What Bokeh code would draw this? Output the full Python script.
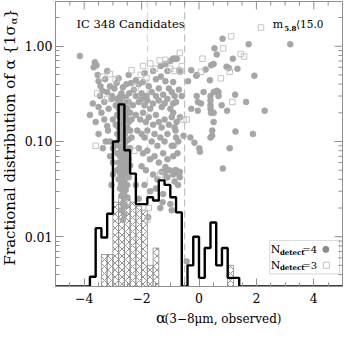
from math import pi, log10
from bokeh.plotting import figure
from bokeh.layouts import row, column
from bokeh.core.properties import value
from bokeh.models import (Range1d, FixedTicker, CustomJSTickFormatter,
                          Span, Label, BoxAnnotation)
from bokeh.embed import file_html
from bokeh.resources import INLINE

# ---------------- data ----------------
hist_edges = [-5.0, -4.8, -4.6, -4.4, -4.2, -4.0, -3.8, -3.6, -3.4, -3.2, -3.0,
              -2.8, -2.6, -2.4, -2.2, -2.0, -1.8, -1.6, -1.4, -1.2, -1.0,
              -0.8, -0.6, -0.4, -0.2, 0.0, 0.2, 0.4, 0.6, 0.8, 1.0,
              1.2, 1.4, 1.6, 1.8, 2.0, 2.2, 2.4, 2.6, 2.8, 3.0,
              3.2, 3.4, 3.6, 3.8, 4.0, 4.2, 4.4, 4.6, 4.8, 5.0]
hist_all = [0, 0, 0, 0, 0, 0, 0.0038, 0.0123, 0.0098, 0.0174,
            0.100, 0.245, 0.081, 0.046, 0.022, 0.022, 0.026, 0.024, 0.039, 0.035,
            0.026, 0.018, 0, 0.0050, 0.0100, 0.0037, 0.0076, 0.0141, 0.0050, 0.0076,
            0.0037, 0.0037, 0, 0, 0, 0, 0, 0, 0, 0,
            0, 0, 0, 0, 0, 0, 0, 0, 0, 0]

hatch_left = [-3.4, -3.2, -3.0, -2.8, -2.6, -2.4, -2.2, -2.0, -1.8, -1.6, 1.0]
hatch_right = [-3.2, -3.0, -2.8, -2.6, -2.4, -2.2, -2.0, -1.8, -1.6, -1.4, 1.2]
hatch_frac = [0.0065, 0.0065, 0.023, 0.027, 0.027, 0.023, 0.021, 0.019, 0.0050, 0.0076, 0.0050]

circles_core = [(-2.85, 0.28), (-2.75, 0.30), (-2.65, 0.27), (-2.55, 0.29), (-2.45, 0.26), (-2.9, 0.24),
                (-2.8, 0.22), (-2.7, 0.23), (-2.6, 0.21), (-2.5, 0.22), (-2.4, 0.20), (-2.3, 0.24),
                (-2.85, 0.19), (-2.75, 0.18), (-2.65, 0.17), (-2.55, 0.18), (-2.45, 0.16), (-2.35, 0.17),
                (-2.9, 0.15), (-2.8, 0.14), (-2.7, 0.15), (-2.6, 0.13), (-2.5, 0.14), (-2.4, 0.13),
                (-2.85, 0.12), (-2.75, 0.11), (-2.65, 0.115), (-2.55, 0.10), (-2.45, 0.105), (-2.35, 0.11),
                (-2.9, 0.095), (-2.8, 0.09), (-2.7, 0.085), (-2.6, 0.09), (-2.5, 0.08), (-2.4, 0.085),
                (-2.85, 0.075), (-2.75, 0.07), (-2.65, 0.068), (-2.55, 0.072), (-2.45, 0.065),
                (-2.8, 0.06), (-2.7, 0.055), (-2.6, 0.058), (-2.5, 0.052), (-2.4, 0.056),
                (-2.85, 0.05), (-2.75, 0.046), (-2.65, 0.044), (-2.55, 0.047), (-2.45, 0.042),
                (-2.8, 0.04), (-2.7, 0.037), (-2.6, 0.038), (-2.5, 0.035),
                (-2.75, 0.032), (-2.65, 0.03), (-2.55, 0.031), (-2.7, 0.027), (-2.6, 0.025),
                (-2.65, 0.022), (-2.55, 0.021), (-2.7, 0.019), (-2.6, 0.017), (-2.65, 0.015),
                (-2.78, 0.26), (-2.62, 0.24), (-2.52, 0.25), (-2.72, 0.20), (-2.58, 0.19),
                (-2.68, 0.125), (-2.58, 0.12), (-2.78, 0.105), (-2.62, 0.10), (-2.72, 0.078),
                (-2.58, 0.08), (-2.68, 0.062), (-2.52, 0.06), (-2.78, 0.052), (-2.62, 0.05),
                (-2.68, 0.041), (-2.58, 0.034), (-2.72, 0.035), (-2.62, 0.028), (-2.52, 0.026)]

circles_left = [(-3.5, 0.23), (-3.2, 0.145), (-3.17, 0.13), (-3.1, 0.10), (-3.4, 0.2), (-3.3, 0.17),
                (-3.0, 0.17), (-3.5, 0.12), (-3.25, 0.10), (-3.0, 0.085), (-3.1, 0.07), (-3.35, 0.085),
                (-3.0, 0.06), (-3.6, 0.16), (-3.7, 0.25), (-3.05, 0.28), (-3.15, 0.22), (-3.3, 0.26),
                (-3.45, 0.3), (-3.2, 0.33), (-3.0, 0.045), (-3.05, 0.035), (-3.8, 0.19)]

circles_upper = [(-4.15, 0.79), (-3.63, 0.68), (-3.57, 0.63), (-3.67, 0.60), (-3.53, 0.50), (-3.5, 0.43),
                 (-3.43, 0.38), (-3.27, 0.45), (-3.1, 0.38), (-2.87, 0.41), (-2.53, 0.40), (-2.37, 0.41),
                 (-2.43, 0.32), (-2.7, 0.32), (-3.03, 0.30), (-3.37, 0.34), (-2.27, 0.35), (-2.0, 0.32),
                 (-1.83, 0.30), (-1.5, 0.45), (-1.33, 0.48), (-1.17, 0.43), (-1.0, 0.70), (-1.17, 0.65),
                 (-1.33, 0.62), (-2.95, 0.36), (-2.65, 0.37), (-2.2, 0.44), (-2.1, 0.40), (-1.95, 0.42),
                 (-1.75, 0.38), (-1.65, 0.33), (-1.4, 0.36), (-1.25, 0.31), (-1.05, 0.36), (-0.9, 0.42),
                 (-0.8, 0.74), (-0.9, 0.74), (-1.6, 0.55), (-2.45, 0.50), (-3.2, 0.55), (-2.8, 0.46),
                 (-1.9, 0.52), (-1.1, 0.55), (-0.95, 0.33), (-0.7, 0.35), (-0.6, 0.30)]

circles_mid = [(-2.2, 0.30), (-2.1, 0.26), (-2.0, 0.28), (-1.9, 0.24), (-1.8, 0.27), (-1.7, 0.22),
               (-1.6, 0.25), (-1.5, 0.30), (-1.4, 0.27), (-1.3, 0.23), (-1.2, 0.25), (-1.1, 0.28),
               (-1.0, 0.22), (-0.9, 0.25), (-2.2, 0.19), (-2.05, 0.17), (-1.95, 0.20), (-1.85, 0.16),
               (-1.75, 0.18), (-1.6, 0.15), (-1.5, 0.19), (-1.4, 0.16), (-1.3, 0.14), (-1.2, 0.17),
               (-1.05, 0.15), (-0.95, 0.18), (-0.85, 0.14), (-2.15, 0.13), (-2.0, 0.12), (-1.9, 0.11),
               (-1.8, 0.13), (-1.65, 0.10), (-1.55, 0.12), (-1.45, 0.09), (-1.35, 0.11), (-1.2, 0.10),
               (-1.1, 0.12), (-0.95, 0.09), (-0.8, 0.11), (-2.1, 0.085), (-1.95, 0.075), (-1.8, 0.08),
               (-1.7, 0.065), (-1.55, 0.07), (-1.4, 0.06), (-1.25, 0.075), (-1.1, 0.065), (-0.9, 0.07),
               (-2.0, 0.055), (-1.85, 0.05), (-1.6, 0.045), (-1.45, 0.04), (-1.3, 0.048), (-1.1, 0.042),
               (-0.9, 0.045), (-0.8, 0.05), (-0.85, 0.038), (-1.9, 0.035), (-1.7, 0.03), (-1.5, 0.032),
               (-1.25, 0.028), (-1.0, 0.022), (-1.35, 0.02), (-0.95, 0.019), (-0.83, 0.05), (-0.67, 0.048),
               (-0.7, 0.045), (-0.73, 0.035), (-1.17, 0.054), (-1.03, 0.05), (-1.2, 0.047), (-1.13, 0.042),
               (-0.67, 0.042), (-1.27, 0.023), (-1.77, 0.016), (-2.2, 0.035), (-2.1, 0.025)]

circles_right = [(0.82, 1.20), (1.73, 1.05), (3.18, 1.05), (0.54, 0.95), (0.62, 0.82), (1.18, 0.74),
                 (-0.88, 0.74), (-0.77, 0.74), (0.51, 0.65), (0.42, 0.63), (0.23, 0.57), (-0.27, 0.56),
                 (-0.07, 0.50), (-0.10, 0.49), (0.96, 0.61), (1.04, 0.59), (1.34, 0.58), (0.38, 0.44),
                 (-0.38, 0.43), (1.93, 0.49), (-0.69, 0.56), (-0.66, 0.54), (0.16, 0.33), (0.51, 0.33),
                 (0.62, 0.34), (0.68, 0.33), (-0.08, 0.30), (-0.04, 0.26), (0.07, 0.25), (0.40, 0.30),
                 (0.40, 0.27), (0.40, 0.24), (0.40, 0.22), (0.42, 0.20), (0.68, 0.30), (1.26, 0.31),
                 (0.79, 0.24), (0.51, 0.20), (0.98, 0.21), (1.64, 0.26), (2.29, 0.21), (-0.27, 0.22),
                 (-0.04, 0.21), (0.51, 0.16), (-0.66, 0.18), (0.46, 0.13), (0.46, 0.115), (0.40, 0.11),
                 (1.27, 0.127), (1.88, 0.12), (-0.30, 0.11), (-0.16, 0.097), (1.07, 0.085), (0.01, 0.085),
                 (0.03, 0.078), (-0.54, 0.115), (0.83, 0.052), (-0.43, 0.0055), (-0.85, 0.30), (-0.8, 0.26),
                 (-0.9, 0.2), (-0.78, 0.16), (-0.82, 0.13), (-0.72, 0.1), (-0.88, 0.09), (-0.75, 0.075)]

squares = [(-3.37, 0.48), (-3.1, 0.51), (-3.55, 0.32), (-2.03, 0.50), (-1.53, 0.58), (-1.37, 0.71),
           (-1.17, 0.72), (-1.83, 0.46), (-2.53, 0.26), (-2.9, 0.45), (-3.2, 0.28), (-2.2, 0.37),
           (-1.0, 0.58), (-0.87, 0.55), (-0.65, 0.55), (2.16, 1.57), (1.12, 1.27), (0.84, 0.95),
           (0.12, 0.74), (1.46, 0.83), (1.57, 0.78), (0.07, 0.54), (1.07, 0.54), (0.76, 0.46),
           (1.16, 0.26), (-0.54, 0.17), (-0.43, 0.17), (-1.95, 0.62), (-2.35, 0.56), (-1.7, 0.66),
           (-3.6, 0.09), (-1.8, 0.015), (-1.75, 0.02), (-2.25, 0.08), (-1.35, 0.045), (-0.67, 0.85),
           (-0.6, 0.62)]

x_major = [-4, -2, 0, 2, 4]
x_minor = [-4.5, -3.5, -3, -2.5, -1.5, -1, -0.5, 0.5, 1, 1.5, 2.5, 3, 3.5, 4.5]
y_major = [0.01, 0.1, 1.0]
y_minor = [0.004, 0.005, 0.006, 0.007, 0.008, 0.009, 0.02, 0.03, 0.04, 0.05, 0.06, 0.07, 0.08, 0.09,
           0.2, 0.3, 0.4, 0.5, 0.6, 0.7, 0.8, 0.9, 2.0]
alpha_cuts = [-1.8, -0.5]

# ---------------- geometry ----------------
X0, X1 = -5.0, 5.0
Y0, Y1 = 0.003, 2.95
FONT = "DejaVu Serif"
AX = "#8f8f8f"
WL = 20            # strip holding the y-axis title
HX = 20            # strip holding the x-axis title
WM, HM = 343 - WL, 327 - HX
BL, BR, BT, BB = 35, 1, 1, 21

xr = Range1d(X0, X1)
yr = Range1d(Y0, Y1)

p = figure(width=WM, height=HM, x_range=xr, y_range=yr,
           y_axis_type="log", output_backend="svg", toolbar_location=None,
           min_border_left=BL, min_border_right=BR, min_border_top=BT, min_border_bottom=BB)
p.grid.visible = False
p.outline_line_color = AX
p.background_fill_color = "white"

xt = FixedTicker(ticks=x_major, minor_ticks=x_minor)
yt = FixedTicker(ticks=y_major, minor_ticks=y_minor)
p.xaxis.ticker = xt
p.yaxis.ticker = yt
p.xaxis.formatter = CustomJSTickFormatter(code="return tick < 0 ? '\\u2212' + Math.abs(tick) : '' + tick;")
p.yaxis.formatter = CustomJSTickFormatter(code="return tick.toFixed(2);")

for ax in [p.xaxis[0], p.yaxis[0]]:
    ax.axis_line_color = AX
    ax.major_tick_line_color = AX
    ax.minor_tick_line_color = AX
    ax.major_tick_in = 8
    ax.major_tick_out = 0
    ax.minor_tick_in = 4
    ax.minor_tick_out = 0
    ax.major_label_text_font = FONT
    ax.major_label_text_font_size = "12.5px"
    ax.major_label_text_color = "black"
p.xaxis[0].major_label_standoff = 6
p.yaxis[0].major_label_standoff = 3

# inward ticks on the top and right frame edges (same tick positions as bottom/left)
px_per_x = (WM - BL - BR) / (X1 - X0)
px_per_dec = (HM - BT - BB) / log10(Y1 / Y0)
dy_major = 10 ** (8 / px_per_dec)
dy_minor = 10 ** (4 / px_per_dec)
p.segment(x0=x_major, x1=x_major, y0=[Y1] * len(x_major), y1=[Y1 / dy_major] * len(x_major),
          line_color=AX, line_width=1)
p.segment(x0=x_minor, x1=x_minor, y0=[Y1] * len(x_minor), y1=[Y1 / dy_minor] * len(x_minor),
          line_color=AX, line_width=1)
p.segment(x0=[X1] * len(y_major), x1=[X1 - 8 / px_per_x] * len(y_major), y0=y_major, y1=y_major,
          line_color=AX, line_width=1)
p.segment(x0=[X1] * len(y_minor), x1=[X1 - 4 / px_per_x] * len(y_minor), y0=y_minor, y1=y_minor,
          line_color=AX, line_width=1)

for a, col in zip(alpha_cuts, ["#d0d0d0", "#b4b4b4"]):
    p.add_layout(Span(location=a, dimension="height", line_color=col, line_dash="7 4",
                      line_width=1, level="underlay"))

# hatched histogram
p.quad(left=hatch_left, right=hatch_right, bottom=[Y0] * len(hatch_frac), top=hatch_frac,
       fill_color=None, line_color="#8a8a8a", line_width=0.8,
       hatch_pattern="x", hatch_color="#7a7a7a", hatch_scale=7, hatch_weight=0.8)

# scatter points
circ = circles_core + circles_left + circles_upper + circles_mid + circles_right
p.scatter([c[0] for c in circ], [c[1] for c in circ], marker="circle", size=6,
          fill_color="#a6a6a6", line_color="#a0a0a0", line_width=0.5)
p.scatter([s[0] for s in squares], [s[1] for s in squares], marker="square", size=5.5,
          fill_color=None, line_color="#c4c4c4", line_width=1)

# step histogram of all sources
step_y = [v if v > 0 else Y0 for v in hist_all]
step_y = step_y + [step_y[-1]]
p.step(hist_edges, step_y, mode="after", line_color="black", line_width=2.4)

# ---------------- annotations inside the frame ----------------
def lab(x, y, text, size, **kw):
    opts = dict(x=x, y=y, text=text, text_font=FONT, text_font_size=size,
                text_color="black", text_baseline="middle", text_align="left")
    opts.update(kw)
    p.add_layout(Label(**opts))

lab(-4.27, 1.70, "IC 348 Candidates", "11.5px")
lab(2.57, 1.70, "m", "11px")
lab(2.97, 1.55, "5.8", "7px", text_font_style="bold")
lab(3.38, 1.70, "\u27e815.0", "10.5px")

p.add_layout(BoxAnnotation(left=2.46, right=4.9, bottom=0.00407, top=0.00912,
                           fill_color="white", fill_alpha=1, line_color=AX, line_width=1.2,
                           level="underlay"))
lab(2.5, 0.00736, "N", "11px")
lab(2.82, 0.00690, "detect", "7px", text_font_style="bold")
lab(3.60, 0.00736, "=4", "10px")
lab(2.5, 0.00501, "N", "11px")
lab(2.82, 0.00470, "detect", "7px", text_font_style="bold")
lab(3.60, 0.00501, "=3", "10px")
p.scatter([4.42], [0.00736], marker="circle", size=6, fill_color="#8a8a8a", line_color="#8a8a8a")
p.scatter([4.44], [0.00501], marker="square", size=6, fill_color=None, line_color="#c4c4c4")

# ---------------- axis-title strips ----------------
def strip(width, height, x_range, y_range, **kw):
    f = figure(width=width, height=height, x_range=x_range, y_range=y_range,
               output_backend="svg", toolbar_location=None,
               x_axis_location=None, y_axis_location=None, **kw)
    f.grid.visible = False
    f.outline_line_color = None
    f.background_fill_color = "white"
    f.border_fill_color = "white"
    return f

# y-axis title: shares the log y-range and frame rows of the main plot
fy = strip(WL, 327, Range1d(0, WL), yr, y_axis_type="log",
           min_border_left=0, min_border_right=0, min_border_top=BT, min_border_bottom=BB + HX)
fy.text(x=[9.5], y=[1.66], text=["Fractional distribution of α {1σ"], angle=pi / 2,
        text_font=value(FONT), text_font_size=value("15px"), text_color="black",
        text_align="right", text_baseline="middle")
fy.text(x=[13.0], y=[1.70], text=["α"], angle=pi / 2,
        text_font=value(FONT), text_font_size=value("10px"), text_color="black",
        text_align="left", text_baseline="middle")
fy.text(x=[9.5], y=[1.97], text=["}"], angle=pi / 2,
        text_font=value(FONT), text_font_size=value("15px"), text_color="black",
        text_align="left", text_baseline="middle")

# x-axis title: shares the x-range and frame columns of the main plot
fx = strip(WM, HX, xr, Range1d(0, HX),
           min_border_left=BL, min_border_right=BR, min_border_top=0, min_border_bottom=0)
fx.text(x=[-1.5], y=[10.0], text=["α"],
        text_font=value(FONT), text_font_size=value("15px"), text_color="black",
        text_align="left", text_baseline="middle")
fx.text(x=[-1.2], y=[8.2], text=["(3\u22128μm, observed)"],
        text_font=value(FONT), text_font_size=value("12px"), text_color="black",
        text_align="left", text_baseline="middle")

layout = row(fy, column(p, fx))
open("out.html", "w").write(file_html(layout, INLINE))
